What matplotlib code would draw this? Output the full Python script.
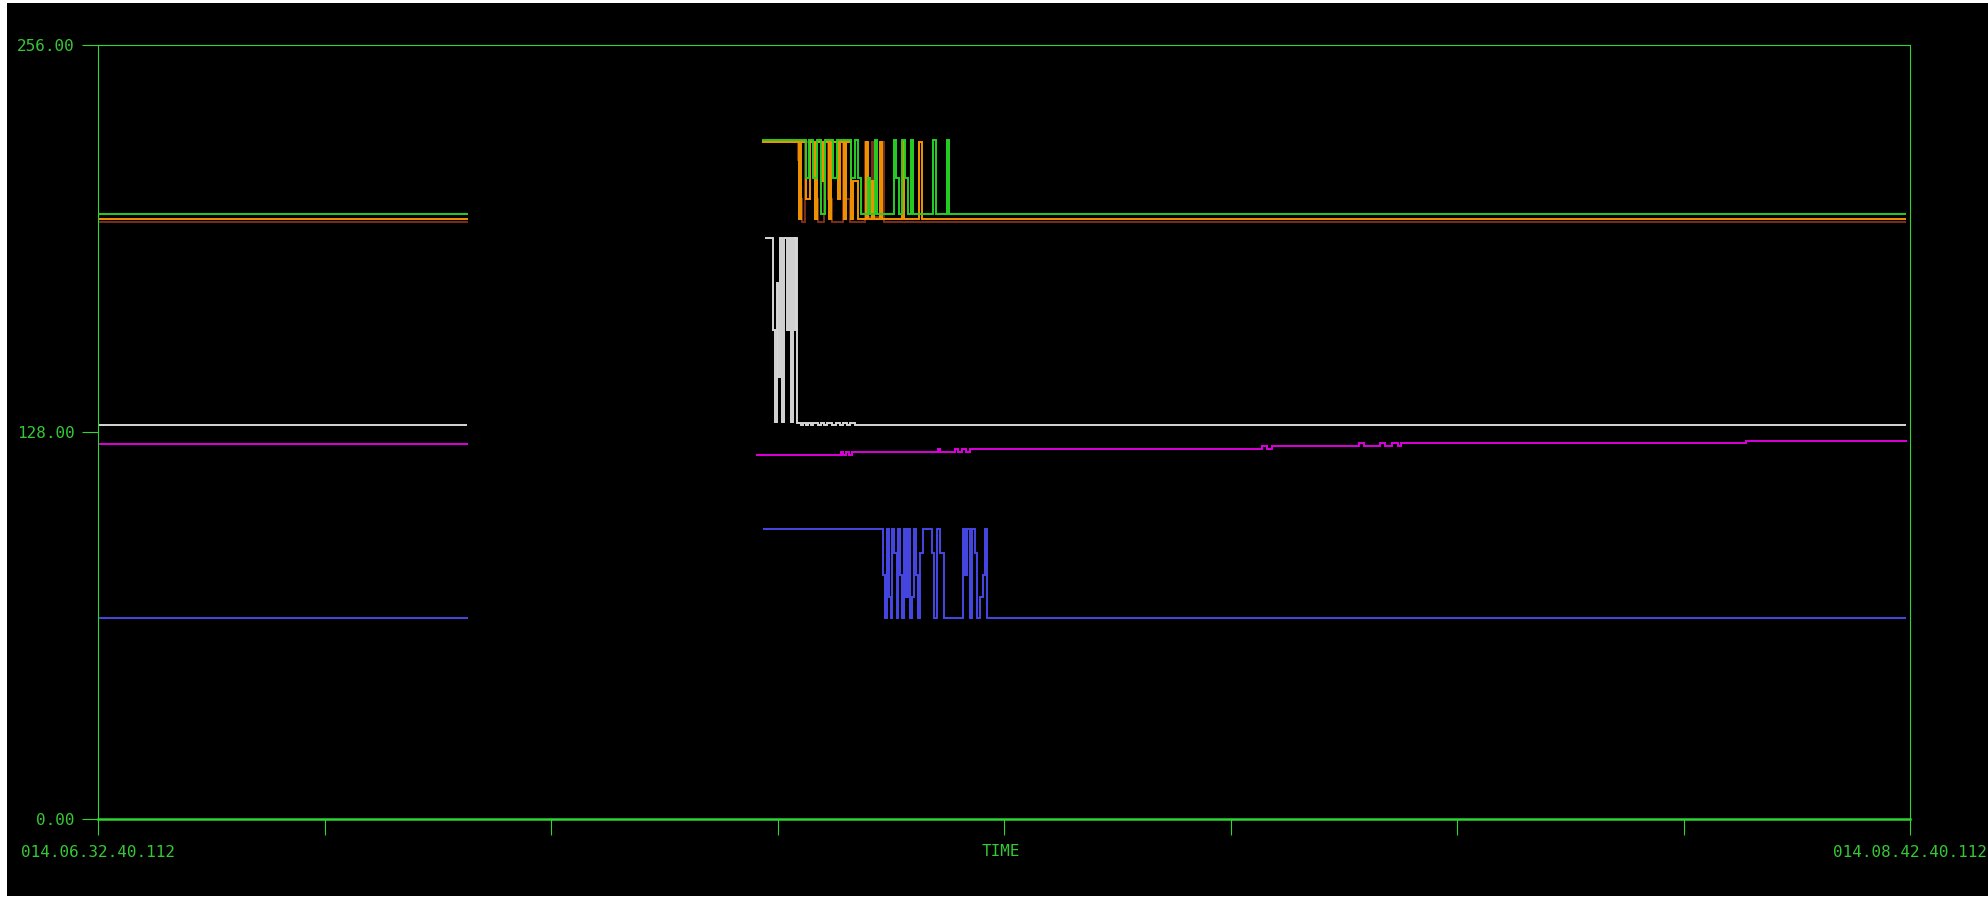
import matplotlib
matplotlib.use("Agg")
import matplotlib.pyplot as plt
from matplotlib.patches import Rectangle

# ---- data: minutes after 06:32:40.112, signal value (0..256) ----
# first recording block (flat levels)
seg1_t = [0.0, 26.55]
seg1_green = [200.0, 200.0]
seg1_orange = [198.5, 198.5]
seg1_brown = [197.5, 197.5]
seg1_white_t = [0.0, 26.45]
seg1_white = [130.3, 130.3]
seg1_magenta = [123.9, 123.9]
seg1_blue = [66.4, 66.4]

# second recording block (step signals)
green_t = [47.62, 50.79, 51.01, 51.30, 51.59, 51.87, 52.16, 52.73, 53.02, 54.02,
           54.31, 54.52, 54.74, 55.24, 55.39, 55.74, 55.89, 57.11, 57.25, 57.46,
           57.68, 57.90, 58.11, 58.33, 58.47, 59.91, 60.12, 60.91, 61.05, 129.71]
green_v = [224.5, 212.0, 224.5, 212.0, 224.5, 200.0, 224.5, 212.0, 224.5, 212.0,
           224.5, 212.0, 200.0, 212.0, 200.0, 224.5, 200.0, 224.5, 212.0, 200.0,
           224.5, 212.0, 200.0, 224.5, 200.0, 224.5, 200.0, 224.5, 200.0, 200.0]

orange_t = [47.62, 50.29, 50.44, 50.79, 51.08, 51.44, 51.58, 51.94, 52.09, 52.45,
            52.59, 53.09, 53.23, 53.52, 53.66, 54.02, 54.16, 54.52, 55.10, 55.24,
            55.53, 55.67, 56.10, 56.25, 57.68, 57.82, 58.90, 59.12, 129.71]
orange_v = [224.0, 198.5, 224.0, 205.0, 224.0, 198.5, 224.0, 211.0, 224.0, 198.5,
            224.0, 205.0, 224.0, 198.5, 224.0, 198.5, 211.0, 198.5, 224.0, 198.5,
            211.0, 198.5, 224.0, 198.5, 224.0, 198.5, 224.0, 198.5, 198.5]

brown_t = [47.62, 50.22, 50.36, 50.51, 50.72, 51.44, 51.66, 52.09, 52.37, 52.66,
           53.45, 53.66, 53.95, 55.03, 55.17, 55.53, 55.67, 56.25, 56.39, 129.71]
brown_v = [224.0, 218.0, 205.0, 197.5, 224.0, 205.0, 197.5, 224.0, 205.0, 197.5,
           224.0, 205.0, 197.5, 224.0, 199.0, 224.0, 199.0, 224.0, 197.5, 197.5]

white_t = [47.85, 48.46, 48.57, 48.68, 48.78, 48.93, 49.07, 49.25, 49.43, 49.57,
           49.75, 49.86, 50.01, 50.11, 50.18, 50.44, 50.58, 50.79, 50.94, 51.15,
           51.30, 51.66, 51.87, 52.09, 52.30, 52.66, 52.95, 53.23, 53.45, 53.74,
           53.95, 54.31, 55.44, 129.71]
white_v = [192.3, 161.8, 131.4, 177.3, 146.3, 192.3, 131.4, 192.3, 161.8, 192.3,
           131.4, 192.3, 161.8, 192.3, 131.0, 130.3, 131.0, 130.3, 131.0, 130.3,
           131.0, 130.3, 131.0, 130.3, 131.0, 130.3, 131.0, 130.3, 131.0, 130.3,
           131.0, 130.3, 130.3, 130.3]

magenta_t = [47.21, 53.30, 53.45, 53.66, 53.88, 54.09, 60.26, 60.41, 61.48, 61.70,
             61.99, 62.27, 62.56, 83.51, 83.87, 84.23, 90.47, 90.83, 91.98, 92.33,
             92.84, 93.27, 93.48, 118.23, 129.80]
magenta_v = [120.5, 121.5, 120.5, 121.5, 120.5, 121.5, 122.5, 121.5, 122.5, 121.5,
             122.5, 121.5, 122.5, 123.5, 122.5, 123.5, 124.5, 123.5, 124.5, 123.5,
             124.5, 123.5, 124.5, 125.0, 125.0]

blue_t = [47.73, 56.34, 56.46, 56.61, 56.75, 56.89, 57.00, 57.14, 57.29, 57.43,
          57.54, 57.68, 57.82, 57.97, 58.11, 58.26, 58.40, 58.54, 58.69, 58.83,
          58.97, 59.19, 59.83, 59.97, 60.19, 60.41, 60.70, 62.06, 62.20, 62.34,
          62.56, 62.70, 62.92, 63.06, 63.28, 63.49, 63.64, 63.76, 129.71]
blue_v = [96.0, 80.7, 66.4, 96.0, 73.5, 66.4, 96.0, 88.0, 66.4, 96.0,
          80.7, 66.4, 96.0, 73.5, 96.0, 66.4, 73.5, 96.0, 80.7, 66.4,
          88.0, 96.0, 88.0, 66.4, 96.0, 88.0, 66.4, 96.0, 80.7, 96.0,
          66.4, 96.0, 88.0, 66.4, 73.5, 80.7, 96.0, 66.4, 66.4]

x_ticks = [0.0, 16.25, 32.5, 48.75, 65.0, 81.25, 97.5, 113.75, 130.0]
x_ticklabels = ["014.06.32.40.112", "", "", "", "", "", "", "", "014.08.42.40.112"]
y_ticks = [0, 128, 256]
y_ticklabels = ["0.00", "128.00", "256.00"]

# ---- styling ----
AXIS_GREEN = "#2fd62f"
TEXT_GREEN = "#35c835"
C_GREEN = "#26cf26"
C_ORANGE = "#f29400"
C_BROWN = "#7c2f1c"
C_WHITE = "#d6d6d6"
C_MAGENTA = "#dc00dc"
C_BLUE = "#4646e6"
LW = 1.4
FONT = "DejaVu Sans Mono"
FS = 11.5

W, H = 1988, 899
fig = plt.figure(figsize=(W / 100, H / 100), dpi=100, facecolor="white")
# black screen area (thin white border left/bottom/top)
fig.patches.append(Rectangle((7 / W, 3 / H), 1 - 7 / W, 1 - 6 / H,
                             transform=fig.transFigure, facecolor="black",
                             edgecolor="none", zorder=-10))

ax = fig.add_axes([98 / W, 80 / H, 1812 / W, 774 / H])
ax.set_zorder(1)
ax.set_facecolor("black")
ax.set_xlim(0, 130)
ax.set_ylim(0, 256)

series = [
    (seg1_t, seg1_brown, brown_t, brown_v, C_BROWN),
    (seg1_t, seg1_orange, orange_t, orange_v, C_ORANGE),
    (seg1_t, seg1_magenta, magenta_t, magenta_v, C_MAGENTA),
    (seg1_t, seg1_blue, blue_t, blue_v, C_BLUE),
    (seg1_white_t, seg1_white, white_t, white_v, C_WHITE),
    (seg1_t, seg1_green, green_t, green_v, C_GREEN),
]
for t1, v1, t2, v2, col in series:
    ax.plot(t1, v1, color=col, lw=LW, solid_capstyle="butt")
    ax.plot(t2, v2, color=col, lw=LW, drawstyle="steps-post",
            solid_joinstyle="miter", solid_capstyle="butt")

for side, sp in ax.spines.items():
    sp.set_color(AXIS_GREEN)
    sp.set_linewidth(0.8)
ax.spines["bottom"].set_linewidth(1.8)

ax.set_xticks(x_ticks)
ax.set_xticklabels(x_ticklabels)
ax.set_yticks(y_ticks)
ax.set_yticklabels(y_ticklabels)
ax.tick_params(axis="both", colors=AXIS_GREEN, length=11.5, width=0.8,
               direction="out", labelcolor=TEXT_GREEN, labelsize=FS)
ax.tick_params(axis="x", pad=7)
ax.tick_params(axis="y", pad=5.5)
for lab in ax.get_xticklabels() + ax.get_yticklabels():
    lab.set_fontfamily(FONT)

ax.set_xlabel("TIME", color=TEXT_GREEN, fontsize=FS, fontfamily=FONT)
ax.xaxis.set_label_coords(0.498, -0.0426)
ax.xaxis.label.set_va("center")

fig.savefig("out.png", dpi=100, facecolor=fig.get_facecolor())
